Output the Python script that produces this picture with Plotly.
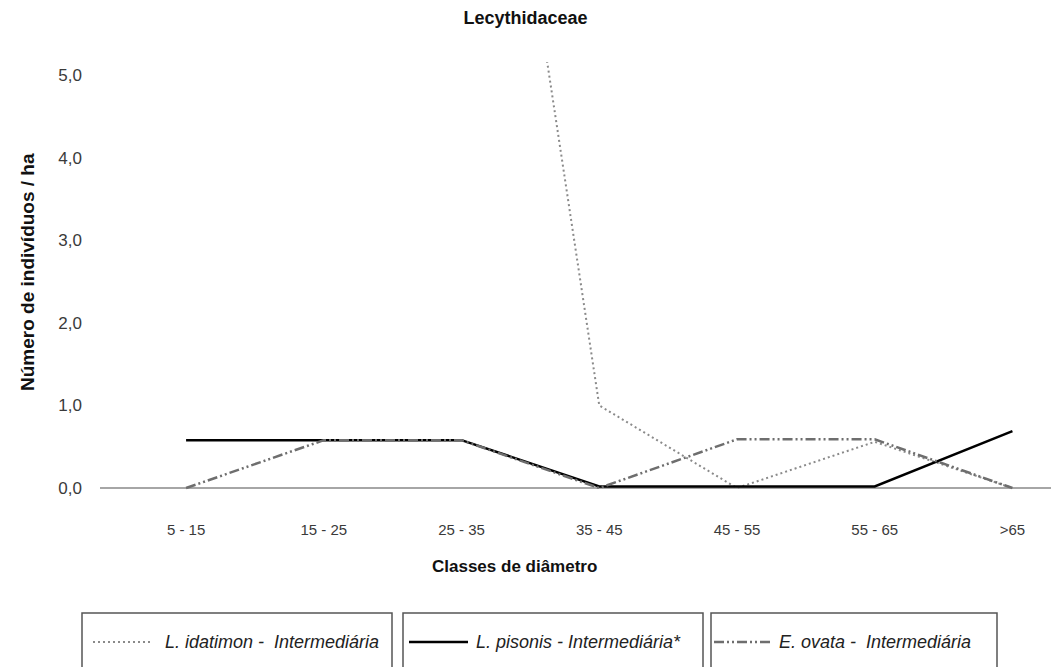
import plotly.graph_objects as go

# ---- data ----
categories = ["5 - 15", "15 - 25", "25 - 35", "35 - 45", "45 - 55", "55 - 65", ">65"]
l_idatimon = [None, None, 12.0, 1.0, 0.0, 0.56, 0.0]
l_pisonis = [0.58, 0.58, 0.58, 0.02, 0.02, 0.02, 0.69]
e_ovata = [0.0, 0.58, 0.58, 0.0, 0.59, 0.59, 0.0]
series_names = ["L. idatimon -  Intermediária", "L. pisonis - Intermediária*", "E. ovata -  Intermediária"]
y_ticks = [0, 1, 2, 3, 4, 5]

W, H = 1051, 667
L, R, T, B = 100, 0, 62, 174
pw, ph = W - L - R, H - T - B


def px(xp):
    return (xp - L) / pw


def py(yp):
    return (H - B - yp) / ph


FAM = "Liberation Sans, Arial, sans-serif"
styles = [
    dict(color="#8a8a8a", width=2, dash="2px,3px"),
    dict(color="#000000", width=2.5, dash="solid"),
    dict(color="#6e6e6e", width=2.5, dash="10px,3px,2px,3px,2px,3px"),
]

fig = go.Figure()
for vals, name, st in zip([l_idatimon, l_pisonis, e_ovata], series_names, styles):
    fig.add_trace(go.Scatter(
        x=categories, y=vals, mode="lines", name=name,
        line=st, connectgaps=False, showlegend=False,
    ))

fig.update_layout(
    width=W, height=H,
    margin=dict(l=L, r=R, t=T, b=B),
    plot_bgcolor="white", paper_bgcolor="white",
    font=dict(family=FAM, size=12, color="#333333"),
    title=dict(text="<b>Lecythidaceae</b>", x=0.5, xref="container", xanchor="center",
               y=1 - 18 / H, yref="container", yanchor="middle",
               font=dict(size=18, color="#111111", family=FAM)),
    xaxis=dict(type="category", range=[-0.625, 6.28], showgrid=False, zeroline=False,
               showline=False, ticks="", ticklabelstandoff=26,
               tickfont=dict(size=15, color="#3a3a3a")),
    yaxis=dict(range=[-0.06, 5.16], tickvals=y_ticks, tickformat=".1f", showgrid=False,
               zeroline=True, zerolinecolor="#a6a6a6", zerolinewidth=2, showline=False,
               ticks="", ticklabelstandoff=17, tickfont=dict(size=17, color="#3a3a3a")),
    separators=",.",
    showlegend=False,
)

# axis titles
fig.add_annotation(text="<b>Classes de diâmetro</b>", x=px(514), y=py(566), xref="paper", yref="paper",
                   showarrow=False, xanchor="center", yanchor="middle",
                   font=dict(size=17, color="#111111"))
fig.add_annotation(text="<b>Número de indivíduos / ha</b>", x=px(27), y=py(272), xref="paper", yref="paper",
                   showarrow=False, textangle=-90, xanchor="center", yanchor="middle",
                   font=dict(size=19, color="#111111"))

# legend: three separate boxes, each with a line sample and italic label
boxes = [(82, 392), (403, 703), (711, 997)]
samples = [(93, 153), (409, 468), (714, 770)]
text_x = [163, 474, 777]
leg_y = 642
for (x0, x1), (s0, s1), tx, name, st in zip(boxes, samples, text_x, series_names, styles):
    fig.add_shape(type="rect", xref="paper", yref="paper", x0=px(x0), x1=px(x1),
                  y0=py(613), y1=py(700), line=dict(color="#555555", width=1.5),
                  fillcolor="rgba(0,0,0,0)")
    fig.add_shape(type="line", xref="paper", yref="paper", x0=px(s0), x1=px(s1),
                  y0=py(leg_y), y1=py(leg_y), line=st)
    fig.add_annotation(text="<i>" + name + "</i>", x=px(tx), y=py(leg_y), xref="paper", yref="paper",
                       showarrow=False, xanchor="left", yanchor="middle",
                       font=dict(size=18, color="#222222"))

fig.write_html("out.html", config={"displayModeBar": False},
               post_script="document.body.style.margin='0';")
